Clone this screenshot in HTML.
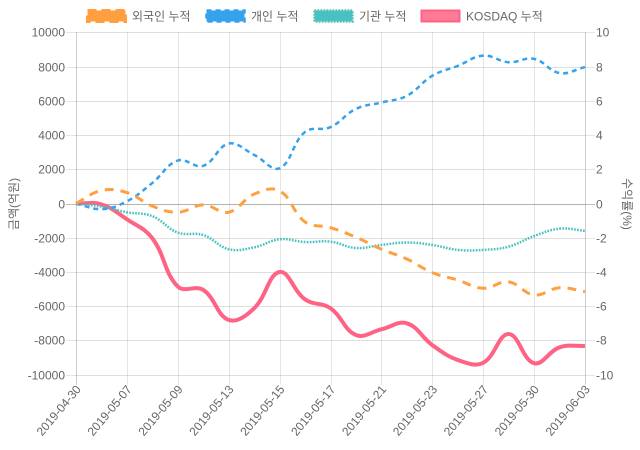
<!DOCTYPE html>
<html>
<head>
<meta charset="utf-8">
<style>
  html,body{margin:0;padding:0;background:#fff;}
  svg{display:block;}
  text{font-family:"Liberation Sans","Noto Sans CJK KR",sans-serif;font-size:12px;fill:#666;}
</style>
</head>
<body>
<svg id="chart" width="640" height="450" viewBox="0 0 640 450" xmlns="http://www.w3.org/2000/svg">
  <!-- legend -->
  <g>
    <rect x="87.5" y="10.5" width="38" height="11" fill="rgb(255,159,64)" stroke="rgb(255,159,64)" stroke-width="3" stroke-dasharray="9 5"/>
    <text x="132" y="20.5">외국인 누적</text>
    <rect x="206.5" y="10.5" width="38" height="11" fill="rgb(54,162,235)" stroke="rgb(54,162,235)" stroke-width="2.5" stroke-dasharray="5 4"/>
    <text x="251" y="20.5">개인 누적</text>
    <rect x="314.5" y="10.5" width="38" height="11" fill="rgb(75,192,192)" stroke="rgb(75,192,192)" stroke-width="2.5" stroke-dasharray="1.7 1.3"/>
    <text x="359" y="20.5">기관 누적</text>
    <rect x="421.5" y="10.5" width="38" height="11" fill="rgba(255,99,132,0.85)" stroke="rgb(255,99,132)" stroke-width="2"/>
    <text x="466" y="20.5">KOSDAQ 누적</text>
  </g>
  <g id="grid"></g>
  <g id="labels"></g>
  <g id="series"></g>
  <text transform="translate(18,204) rotate(-90)" text-anchor="middle">금액(억원)</text>
  <text transform="translate(623,204) rotate(90)" text-anchor="middle">수익률(%)</text>
</svg>
<script>
(function(){
  var NS="http://www.w3.org/2000/svg";
  var X0=76, X1=585, Y0=32.3, Y1=374.7, N=21;
  function xs(i){return X0+(X1-X0)*i/(N-1);}
  function yL(v){return Y1-(v+10000)/20000*(Y1-Y0);}
  function yR(v){return yL(v*1000);}
  function el(tag,attrs,parent,txt){var e=document.createElementNS(NS,tag);for(var k in attrs)e.setAttribute(k,attrs[k]);if(txt!==undefined)e.textContent=txt;parent.appendChild(e);return e;}
  var grid=document.getElementById('grid'), labels=document.getElementById('labels'), series=document.getElementById('series');

  // vertical gridlines
  for(var i=0;i<N;i+=2){
    var x=Math.round(xs(i))+0.5;
    el('line',{x1:x,y1:Y0,x2:x,y2:Y1+10,stroke:'rgba(0,0,0,0.1)','stroke-width':1},grid);
  }
  // horizontal gridlines
  for(var v=-10000;v<=10000;v+=2000){
    var y=Math.round(yL(v))+0.5;
    var c=(v===0)?'rgba(0,0,0,0.3)':'rgba(0,0,0,0.13)';
    var ct=(v===0)?'rgba(0,0,0,0.25)':'rgba(0,0,0,0.1)';
    el('line',{x1:X0,y1:y,x2:X1,y2:y,stroke:c,'stroke-width':1},grid);
    el('line',{x1:X0-10,y1:y,x2:X0,y2:y,stroke:ct,'stroke-width':1},grid);
    el('line',{x1:X1,y1:y,x2:X1+10,y2:y,stroke:ct,'stroke-width':1},grid);
    el('text',{x:65,y:y,'text-anchor':'end','dominant-baseline':'central'},labels,String(v));
    el('text',{x:596,y:y,'text-anchor':'start','dominant-baseline':'central'},labels,String(v/1000));
  }
  // axis borders
  el('line',{x1:X0+0.5,y1:Y0,x2:X0+0.5,y2:Y1+10,stroke:'rgba(0,0,0,0.1)','stroke-width':1},grid);
  el('line',{x1:X1+0.5,y1:Y0,x2:X1+0.5,y2:Y1+10,stroke:'rgba(0,0,0,0.1)','stroke-width':1},grid);

  var dates=['2019-04-30','2019-05-07','2019-05-09','2019-05-13','2019-05-15','2019-05-17','2019-05-21','2019-05-23','2019-05-27','2019-05-30','2019-06-03'];
  for(var j=0;j<dates.length;j++){
    var x=xs(j*2);
    el('text',{transform:'translate('+(x+2.5)+',387) rotate(-50)','text-anchor':'end','dominant-baseline':'central'},labels,dates[j]);
  }

  function path(pts){
    var n=pts.length, cp=[];
    for(var i=0;i<n;i++){
      var p=pts[i], a=pts[i-1]||p, b=pts[i+1]||p;
      var d01=Math.hypot(p[0]-a[0],p[1]-a[1]), d12=Math.hypot(b[0]-p[0],b[1]-p[1]);
      var s01=d01/(d01+d12), s12=d12/(d01+d12);
      if(isNaN(s01))s01=0; if(isNaN(s12))s12=0;
      var fa=0.4*s01, fb=0.4*s12;
      var prev=[p[0]-fa*(b[0]-a[0]), p[1]-fa*(b[1]-a[1])];
      var next=[p[0]+fb*(b[0]-a[0]), p[1]+fb*(b[1]-a[1])];
      prev[1]=Math.max(Y0,Math.min(Y1,prev[1])); next[1]=Math.max(Y0,Math.min(Y1,next[1]));
      cp.push([prev,next]);
    }
    var d='M'+pts[0][0].toFixed(2)+' '+pts[0][1].toFixed(2);
    for(var i=1;i<n;i++){
      var c1=cp[i-1][1], c2=cp[i][0], p=pts[i];
      d+=' C'+c1[0].toFixed(2)+' '+c1[1].toFixed(2)+' '+c2[0].toFixed(2)+' '+c2[1].toFixed(2)+' '+p[0].toFixed(2)+' '+p[1].toFixed(2);
    }
    return d;
  }
  function mk(data,fn){return data.map(function(v,i){return [xs(i),fn(v)];});}

  var orange=[0,760,640,-150,-510,-80,-510,550,740,-1080,-1410,-1970,-2670,-3240,-4040,-4470,-4950,-4580,-5340,-4920,-5150];
  var blue=[0,-330,130,1200,2510,2200,3500,2840,2060,4180,4460,5530,5900,6290,7460,8040,8640,8250,8450,7620,7970];
  var teal=[0,-180,-510,-740,-1700,-1840,-2670,-2560,-2090,-2250,-2230,-2600,-2420,-2280,-2420,-2710,-2710,-2520,-1900,-1470,-1600];
  var pink=[0,-0.05,-0.92,-2.03,-4.85,-5.05,-6.8,-6.12,-4.0,-5.6,-6.12,-7.68,-7.35,-7.0,-8.27,-9.14,-9.3,-7.62,-9.33,-8.4,-8.32];

  el('path',{d:path(mk(pink,yR)),fill:'none',stroke:'rgb(255,99,132)','stroke-width':4},series);
  el('path',{d:path(mk(teal,yL)),fill:'none',stroke:'rgb(75,192,192)','stroke-width':2.5,'stroke-dasharray':'1.7 1.3'},series);
  el('path',{d:path(mk(blue,yL)),fill:'none',stroke:'rgb(54,162,235)','stroke-width':2.5,'stroke-dasharray':'5 4'},series);
  el('path',{d:path(mk(orange,yL)),fill:'none',stroke:'rgb(255,159,64)','stroke-width':3,'stroke-dasharray':'9 7'},series);
})();
</script>
</body>
</html>
